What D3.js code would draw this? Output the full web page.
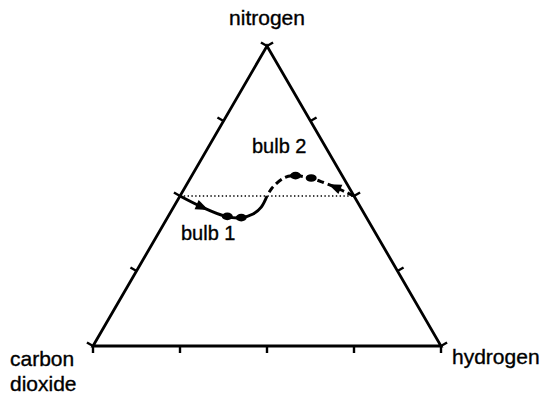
<!DOCTYPE html>
<html>
<head>
<meta charset="utf-8">
<script src="https://cdn.jsdelivr.net/npm/d3@7"></script>
<style>
  html, body { margin: 0; padding: 0; background: #fff; }
  svg { display: block; }
  text { font-family: "Liberation Sans", Arial, Helvetica, sans-serif; fill: #000; stroke: #000; stroke-width: 0.35; }
</style>
</head>
<body>
<script>
// Ternary composition paths: [nitrogen fraction, hydrogen fraction]; CO2 = 1 - N2 - H2
const components = ["nitrogen", "carbon dioxide", "hydrogen"];
const tickFractions = [0, 0.25, 0.5, 0.75, 1];

// bulb 1 starts on the N2/CO2 edge and drifts toward hydrogen
const bulb1 = [
  [0.500, 0.000], [0.463, 0.082], [0.433, 0.163], [0.427, 0.209],
  [0.440, 0.240], [0.463, 0.252], [0.500, 0.250]
];
const bulb1Points = [[0.432, 0.170], [0.428, 0.212]];
const bulb1Arrow = 1;

// bulb 2 starts on the N2/H2 edge and drifts toward carbon dioxide
const bulb2 = [
  [0.500, 0.500], [0.515, 0.465], [0.530, 0.430], [0.545, 0.390], [0.560, 0.344],
  [0.568, 0.292], [0.560, 0.268], [0.527, 0.251], [0.500, 0.250]
];
const bulb2Points = [[0.568, 0.298], [0.560, 0.347]];
const bulb2Arrow = 2;

// equal-nitrogen reference line
const isoNitrogen = [[0.5, 0.0], [0.5, 0.5]];

const W = 547, H = 396;
const svg = d3.select("body").append("svg").attr("width", W).attr("height", H);

// Cartesian scales for the ternary projection
const x = d3.scaleLinear().domain([0, 1]).range([93, 441]);
const y = d3.scaleLinear().domain([0, 1]).range([346, 46]);
const px = d => x(d[1] + d[0] / 2);
const py = d => y(d[0]);

// vertices: nitrogen (apex), carbon dioxide (left), hydrogen (right)
const V = { top: [1, 0], left: [0, 0], right: [0, 1] };
const sides = [[V.left, V.top], [V.top, V.right], [V.right, V.left]];
const centroid = [px([1 / 3, 1 / 3]), py([1 / 3, 1 / 3])];

const g = svg.append("g");

// triangle frame
g.append("path")
  .attr("d", d3.line().x(px).y(py)([V.left, V.top, V.right, V.left]) + "Z")
  .attr("fill", "none").attr("stroke", "#000").attr("stroke-width", 2.8)
  .attr("stroke-linejoin", "miter");

// outward ticks on each side
const tickLen = 7;
sides.forEach(([a, b]) => {
  const ax = px(a), ay = py(a), bx = px(b), by = py(b);
  const dx = bx - ax, dy = by - ay, len = Math.hypot(dx, dy);
  let nx = dy / len, ny = -dx / len;
  const mx = (ax + bx) / 2, my = (ay + by) / 2;
  if ((mx - centroid[0]) * nx + (my - centroid[1]) * ny < 0) { nx = -nx; ny = -ny; }
  tickFractions.forEach(t => {
    const tx = ax + dx * t, ty = ay + dy * t;
    g.append("line")
      .attr("x1", tx).attr("y1", ty)
      .attr("x2", tx + nx * tickLen).attr("y2", ty + ny * tickLen)
      .attr("stroke", "#000").attr("stroke-width", 2.4);
  });
});

// dotted iso-nitrogen line
g.append("path")
  .attr("d", d3.line().x(px).y(py)(isoNitrogen))
  .attr("stroke", "#000").attr("stroke-width", 1.4)
  .attr("stroke-dasharray", "1.4,2.4").attr("fill", "none");

const curve = d3.line().x(px).y(py).curve(d3.curveCatmullRom.alpha(0.5));

g.append("path").attr("d", curve(bulb1))
  .attr("fill", "none").attr("stroke", "#000").attr("stroke-width", 3);
g.append("path").attr("d", curve(bulb2))
  .attr("fill", "none").attr("stroke", "#000").attr("stroke-width", 3)
  .attr("stroke-dasharray", "7,4");

// measured compositions
[...bulb1Points, ...bulb2Points].forEach(d => {
  g.append("ellipse").attr("cx", px(d)).attr("cy", py(d))
    .attr("rx", 5.5).attr("ry", 3.8).attr("fill", "#000");
});

// direction arrows along each path
function arrow(series, i) {
  const a = series[i - 1], b = series[i], c = series[i + 1];
  const ang = Math.atan2(py(c) - py(a), px(c) - px(a)) * 180 / Math.PI;
  g.append("path")
    .attr("d", "M7,0 L-6,-5 L-6,5 Z")
    .attr("transform", `translate(${px(b)},${py(b)}) rotate(${ang})`)
    .attr("fill", "#000");
}
arrow(bulb1, bulb1Arrow);
arrow(bulb2, bulb2Arrow);

// labels
const fs = 21;
svg.append("text").attr("x", px(V.top)).attr("y", 25)
  .attr("text-anchor", "middle").attr("font-size", fs).text(components[0]);
const co2 = svg.append("text").attr("x", 10).attr("y", 366).attr("font-size", fs);
co2.append("tspan").attr("x", 10).text("carbon");
co2.append("tspan").attr("x", 10).attr("dy", 25).text("dioxide");
svg.append("text").attr("x", 452).attr("y", 364).attr("font-size", fs).text(components[2]);

svg.append("text").attr("x", 252).attr("y", 153).attr("font-size", 20).text("bulb 2");
svg.append("text").attr("x", 181).attr("y", 240).attr("font-size", 20).text("bulb 1");
</script>
</body>
</html>
